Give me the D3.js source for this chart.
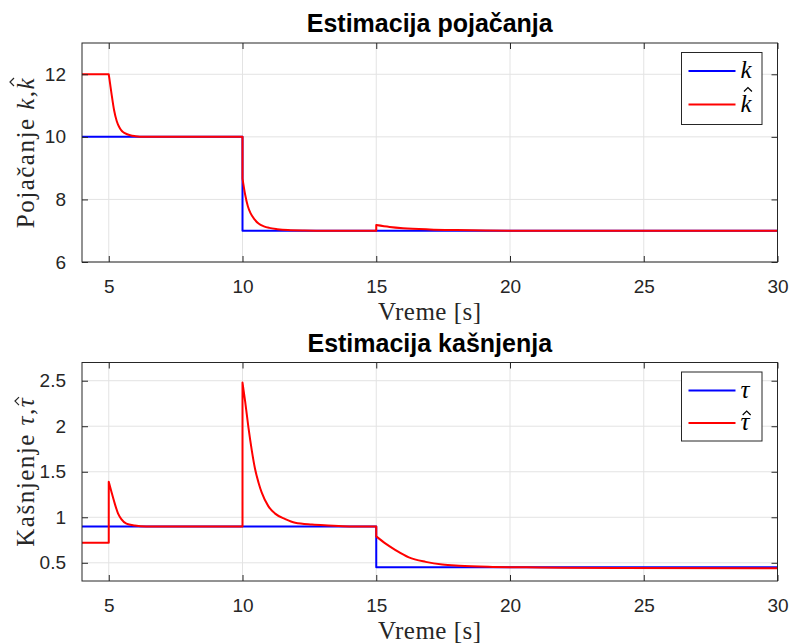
<!DOCTYPE html>
<html>
<head>
<meta charset="utf-8">
<script src="https://cdn.jsdelivr.net/npm/d3@7"></script>
<style>
  body { margin: 0; background: #fff; }
  svg { display: block; }
</style>
</head>
<body>
<div id="chart"></div>
<script>
// ---- data ----
const kTime = [4, 10, 10, 30];
const kVal  = [10, 10, 7, 7];

const kHatTime = [4, 5, 5, 5.05, 5.1, 5.2, 5.3, 5.4, 5.5, 5.6, 5.8, 6, 6.3, 6.6, 10,
                  10, 10.1, 10.2, 10.3, 10.45, 10.6, 10.8, 11, 11.3, 11.7, 12.3, 13, 15,
                  15, 15.5, 16, 17, 18, 20, 30];
const kHatVal  = [12, 12, 12, 11.7, 11.4, 10.85, 10.5, 10.3, 10.18, 10.12, 10.05, 10.02, 10.0, 10, 10,
                  8.67, 8.15, 7.78, 7.56, 7.36, 7.23, 7.14, 7.09, 7.05, 7.02, 7.005, 7, 7,
                  7.18, 7.12, 7.08, 7.04, 7.02, 7.0, 7.0];

const tauTime = [4, 15, 15, 30];
const tauVal  = [0.9, 0.9, 0.45, 0.45];

const tauHatTime = [4, 5, 5, 5.1, 5.22, 5.35, 5.47, 5.66, 5.97, 6.4, 10,
                    10, 10.1, 10.22, 10.35, 10.47, 10.6, 10.72, 10.97, 11.22, 11.6, 11.97, 12.6, 13.2, 14, 15,
                    15, 15.35, 15.72, 16.22, 16.85, 17.47, 18.1, 19.35, 20.6, 22, 30];
const tauHatVal  = [0.72, 0.72, 1.39, 1.28, 1.155, 1.04, 0.98, 0.93, 0.91, 0.9, 0.9,
                    2.48, 2.27, 1.99, 1.73, 1.53, 1.38, 1.27, 1.12, 1.04, 0.98, 0.94, 0.92, 0.91, 0.9, 0.9,
                    0.79, 0.71, 0.64, 0.56, 0.51, 0.48, 0.467, 0.455, 0.45, 0.445, 0.44];

const xTicks = [5, 10, 15, 20, 25, 30];
const kTicks = [6, 8, 10, 12];
const tauTicks = [0.5, 1, 1.5, 2, 2.5];

const W = 790, H = 643;
const axisColor = "#262626";
const gridColor = "#e3e3e3";
const serif = "'Liberation Serif', 'Times New Roman', serif";

const svg = d3.select("#chart").append("svg")
    .attr("width", W)
    .attr("height", H);

// join continuous pieces with straight jumps where time repeats
function stepSmoothPath(times, vals, x, y) {
    let pts = times.map((t, i) => [t, vals[i]]);
    let segs = [[]];
    pts.forEach((p, i) => {
        if (i > 0 && p[0] === pts[i - 1][0]) segs.push([]);
        segs[segs.length - 1].push(p);
    });
    let line = d3.line().x(d => x(d[0])).y(d => y(d[1])).curve(d3.curveMonotoneX);
    return segs.map((s, i) => {
        let d = s.length > 1 ? line(s) : "M" + x(s[0][0]) + "," + y(s[0][1]);
        return i === 0 ? d : d.replace(/^M/, "L");
    }).join("");
}

// small circumflex over the last glyph of a text element (drawn as a path)
function hatOver(parent, textSel, tipY, color) {
    const node = textSel.node();
    const ext = node.getExtentOfChar(node.getNumberOfChars() - 1);
    const ls = parseFloat(textSel.style("letter-spacing")) || 0;
    const cx = ext.x + (ext.width - ls) * 0.58 + 1;
    parent.append("path")
        .attr("d", "M" + (cx - 4) + "," + (tipY + 4) + "L" + cx + "," + tipY + "L" + (cx + 4) + "," + (tipY + 4))
        .attr("fill", "none")
        .attr("stroke", color)
        .attr("stroke-width", 1.2);
}

function drawPanel(cfg) {
    const g = svg.append("g");
    const x = d3.scaleLinear().domain([4, 30]).range([cfg.left, cfg.right]);
    const y = d3.scaleLinear().domain(cfg.yDomain).range([cfg.bottom, cfg.top]);

    // grid
    g.selectAll(".gx").data(xTicks).enter().append("line")
        .attr("x1", d => x(d)).attr("x2", d => x(d))
        .attr("y1", cfg.top).attr("y2", cfg.bottom)
        .attr("stroke", gridColor).attr("stroke-width", 1);
    g.selectAll(".gy").data(cfg.yTicks).enter().append("line")
        .attr("x1", cfg.left).attr("x2", cfg.right)
        .attr("y1", d => y(d)).attr("y2", d => y(d))
        .attr("stroke", gridColor).attr("stroke-width", 1);

    // series
    const clipId = "clip" + cfg.id;
    svg.append("clipPath").attr("id", clipId).append("rect")
        .attr("x", cfg.left).attr("y", cfg.top)
        .attr("width", cfg.right - cfg.left).attr("height", cfg.bottom - cfg.top);
    cfg.series.forEach(s => {
        g.append("path")
            .attr("d", stepSmoothPath(s.t, s.v, x, y))
            .attr("fill", "none")
            .attr("stroke", s.color)
            .attr("stroke-width", 2)
            .attr("stroke-linejoin", "round")
            .attr("clip-path", "url(#" + clipId + ")");
    });

    // axes with inward ticks on all sides
    const tl = 6;
    const fmt = d3.format("~g");
    g.append("g").attr("transform", "translate(0," + cfg.bottom + ")")
        .call(d3.axisBottom(x).tickValues(xTicks).tickSizeInner(-tl).tickSizeOuter(0).tickPadding(18).tickFormat(fmt));
    g.append("g").attr("transform", "translate(0," + cfg.top + ")")
        .call(d3.axisTop(x).tickValues(xTicks).tickSizeInner(-tl).tickSizeOuter(0).tickFormat(""));
    g.append("g").attr("transform", "translate(" + cfg.left + ",0)")
        .call(d3.axisLeft(y).tickValues(cfg.yTicks).tickSizeInner(-tl).tickSizeOuter(0).tickPadding(16).tickFormat(fmt));
    g.append("g").attr("transform", "translate(" + cfg.right + ",0)")
        .call(d3.axisRight(y).tickValues(cfg.yTicks).tickSizeInner(-tl).tickSizeOuter(0).tickFormat(""));

    g.selectAll(".domain").remove();
    g.selectAll(".tick line").attr("stroke", axisColor);
    g.selectAll(".tick text")
        .attr("fill", axisColor)
        .style("font", "19px 'Liberation Sans', Arial, sans-serif");

    g.append("rect")
        .attr("x", cfg.left).attr("y", cfg.top)
        .attr("width", cfg.right - cfg.left).attr("height", cfg.bottom - cfg.top)
        .attr("fill", "none").attr("stroke", axisColor).attr("stroke-width", 1);

    // title
    g.append("text")
        .attr("x", (cfg.left + cfg.right) / 2).attr("y", cfg.top - 11)
        .attr("text-anchor", "middle")
        .style("font", "bold 25px 'Liberation Sans', Arial, sans-serif")
        .attr("fill", "#000")
        .text(cfg.title);

    // x label
    g.append("text")
        .attr("x", (cfg.left + cfg.right) / 2).attr("y", cfg.bottom + 58)
        .attr("text-anchor", "middle")
        .style("font", "25px " + serif)
        .style("letter-spacing", "0.5px")
        .attr("fill", axisColor)
        .text("Vreme [s]");

    // y label
    const ylg = g.append("g")
        .attr("transform", "translate(34," + ((cfg.top + cfg.bottom) / 2) + ") rotate(-90)");
    const yl = ylg.append("text")
        .attr("text-anchor", "middle")
        .style("font", "25px " + serif)
        .style("letter-spacing", "1.5px")
        .attr("fill", axisColor);
    yl.append("tspan").text(cfg.yWord + " ");
    yl.append("tspan").style("font-style", "italic").text(cfg.sym);
    yl.append("tspan").text(",");
    yl.append("tspan").style("font-style", "italic").text(cfg.sym);
    hatOver(ylg, yl, cfg.hatTip, axisColor);

    // legend
    const lg = g.append("g");
    lg.append("rect")
        .attr("x", cfg.right - 96).attr("y", cfg.top + 9.5)
        .attr("width", 80.5).attr("height", cfg.legendH)
        .attr("fill", "#fff").attr("stroke", axisColor).attr("stroke-width", 1);
    cfg.series.forEach((s, i) => {
        const ly = cfg.top + 28 + i * cfg.legendStep;
        lg.append("line")
            .attr("x1", cfg.right - 89).attr("x2", cfg.right - 42)
            .attr("y1", ly).attr("y2", ly)
            .attr("stroke", s.color).attr("stroke-width", 2);
        const tg = lg.append("g").attr("transform", "translate(" + (cfg.right - 37) + "," + (ly + 7) + ")");
        const lt = tg.append("text")
            .style("font", "italic 25px " + serif)
            .attr("fill", "#000")
            .text(s.label);
        if (s.hat) hatOver(tg, lt, cfg.hatTip, "#000");
    });
}

drawPanel({
    id: 1, left: 82, right: 777.5, top: 43, bottom: 262,
    yDomain: [6, 13], yTicks: kTicks,
    title: "Estimacija pojačanja",
    yWord: "Pojačanje", sym: "k", hatTip: -24,
    legendH: 72, legendStep: 33.5,
    series: [
        { t: kTime, v: kVal, color: "#0000ff", label: "k", hat: false },
        { t: kHatTime, v: kHatVal, color: "#ff0000", label: "k", hat: true }
    ]
});

drawPanel({
    id: 2, left: 82, right: 777.5, top: 362.5, bottom: 581,
    yDomain: [0.3, 2.7], yTicks: tauTicks,
    title: "Estimacija kašnjenja",
    yWord: "Kašnjenje", sym: "τ", hatTip: -19,
    legendH: 69, legendStep: 32.5,
    series: [
        { t: tauTime, v: tauVal, color: "#0000ff", label: "τ", hat: false },
        { t: tauHatTime, v: tauHatVal, color: "#ff0000", label: "τ", hat: true }
    ]
});
</script>
</body>
</html>
